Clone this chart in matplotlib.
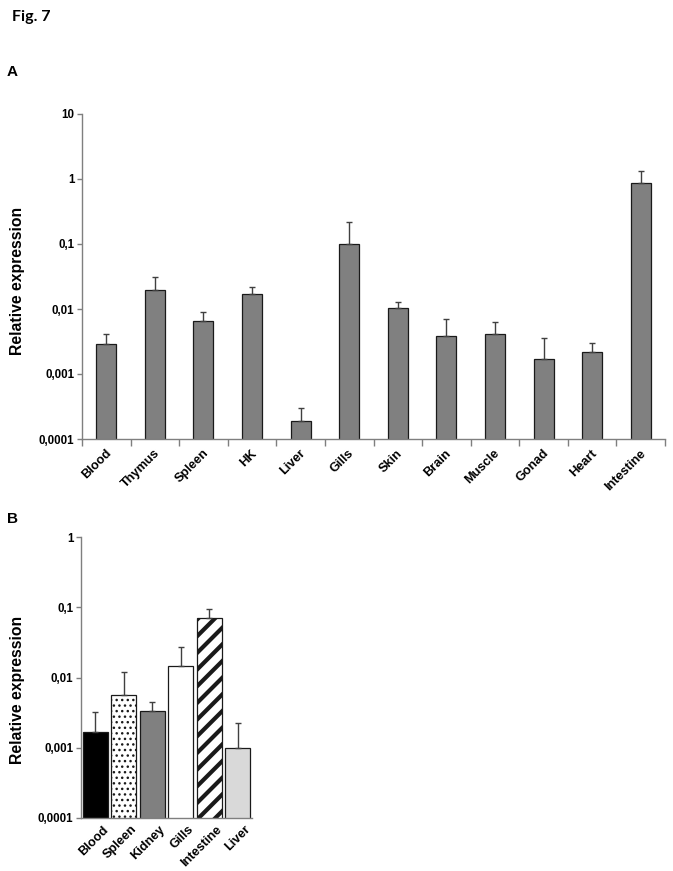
import matplotlib
matplotlib.use("Agg")
import matplotlib.pyplot as plt
import matplotlib.transforms as mtransforms
import numpy as np

# ---------------- data ----------------
tissues_a = ["Blood", "Thymus", "Spleen", "HK", "Liver", "Gills", "Skin",
             "Brain", "Muscle", "Gonad", "Heart", "Intestine"]
values_a = [0.00286, 0.0194, 0.0066, 0.0172, 0.000189, 0.099, 0.01035,
            0.00385, 0.00408, 0.00168, 0.00218, 0.857]
err_a = [0.00121, 0.0120, 0.00248, 0.0048, 0.000115, 0.119, 0.00235,
         0.00309, 0.0023, 0.00186, 0.00085, 0.453]

tissues_b = ["Blood", "Spleen", "Kidney", "Gills", "Intestine", "Liver"]
values_b = [0.00165, 0.0056, 0.00339, 0.0148, 0.0692, 0.0010]
err_b = [0.00155, 0.0064, 0.00116, 0.0128, 0.0256, 0.00123]

yticks_a = [0.0001, 0.001, 0.01, 0.1, 1, 10]
yticklabels_a = ["0,0001", "0,001", "0,01", "0,1", "1", "10"]
yticks_b = [0.0001, 0.001, 0.01, 0.1, 1]
yticklabels_b = ["0,0001", "0,001", "0,01", "0,1", "1"]

# ---------------- style ----------------
W, H = 673, 871
DPI = 100
fig = plt.figure(figsize=(W / DPI, H / DPI), dpi=DPI)
fig.patch.set_facecolor("white")

FONT = "Liberation Sans"
AXCOL = "#7f7f7f"
ERRCOL = "#404040"


def px_axes(left, top, right, bottom):
    return fig.add_axes([left / W, 1 - bottom / H, (right - left) / W, (bottom - top) / H])


def style_axes(ax, yticks, ylabels, ylim):
    ax.set_yscale("log")
    ax.set_ylim(*ylim)
    ax.yaxis.set_major_locator(matplotlib.ticker.FixedLocator(yticks))
    ax.yaxis.set_minor_locator(matplotlib.ticker.NullLocator())
    ax.set_yticklabels(ylabels, fontfamily=FONT, fontweight="bold", fontsize=8.3)
    for s in ["top", "right"]:
        ax.spines[s].set_visible(False)
    for s in ["left", "bottom"]:
        ax.spines[s].set_color(AXCOL)
        ax.spines[s].set_linewidth(1.0)
    ax.tick_params(axis="y", which="major", direction="out", length=3.5,
                   width=1.0, color=AXCOL, pad=2)
    ax.set_ylabel("Relative expression", fontfamily=FONT, fontweight="bold",
                  fontsize=11.3, labelpad=6)


# ---------------- Panel A ----------------
axA = px_axes(82, 114, 665, 439)
xa = np.arange(len(tissues_a))
axA.bar(xa, values_a, width=0.41, color="#808080", edgecolor="#1a1a1a",
        linewidth=0.9, zorder=2)
axA.errorbar(xa, values_a, yerr=[np.zeros(len(err_a)), err_a], fmt="none",
             ecolor=ERRCOL, elinewidth=1.0, capsize=2.5, capthick=1.0, zorder=3)
axA.set_xlim(-0.5, len(tissues_a) - 0.5)
style_axes(axA, yticks_a, yticklabels_a, (0.0001, 10))
axA.set_xticks(np.arange(len(tissues_a) + 1) - 0.5)
axA.set_xticklabels([])
axA.tick_params(axis="x", which="major", direction="out", length=5,
                width=1.0, color=AXCOL)
axA.set_xticks(xa, minor=True)
axA.set_xticklabels(tissues_a, minor=True, rotation=45, ha="right",
                    va="center", rotation_mode="anchor",
                    fontfamily=FONT, fontweight="bold", fontsize=9.2)
axA.tick_params(axis="x", which="minor", length=0, pad=9)
shiftA = mtransforms.ScaledTranslation(3 / DPI, 0, fig.dpi_scale_trans)
for lab in axA.get_xticklabels(minor=True):
    lab.set_transform(lab.get_transform() + shiftA)
axA.yaxis.set_label_coords(-0.097, 0.486)

# ---------------- Panel B ----------------
axB = px_axes(81, 537, 252, 818)
xb = np.arange(len(tissues_b))
colors_b = ["#000000", "#ffffff", "#808080", "#ffffff", "#ffffff", "#d9d9d9"]
hatches_b = [None, "...", None, None, "//", None]
bars = axB.bar(xb, values_b, width=0.86, color=colors_b, edgecolor="#1a1a1a",
               linewidth=0.9, zorder=2)
for b, h in zip(bars, hatches_b):
    if h:
        b.set_hatch(h)
        try:
            b.set_hatch_linewidth(3.0 if h == "//" else 1.0)
        except Exception:
            pass
axB.errorbar(xb, values_b, yerr=[np.zeros(len(err_b)), err_b], fmt="none",
             ecolor=ERRCOL, elinewidth=1.0, capsize=2.5, capthick=1.0, zorder=3)
axB.set_xlim(-0.5, len(tissues_b) - 0.5)
style_axes(axB, yticks_b, yticklabels_b, (0.0001, 1))
axB.set_xticks(xb)
axB.set_xticklabels(tissues_b, rotation=45, ha="right", va="center",
                    rotation_mode="anchor", fontfamily=FONT,
                    fontweight="bold", fontsize=9.2)
axB.tick_params(axis="x", length=0, pad=7)
shiftB = mtransforms.ScaledTranslation(11 / DPI, 0, fig.dpi_scale_trans)
for lab in axB.get_xticklabels():
    lab.set_transform(lab.get_transform() + shiftB)
axB.yaxis.set_label_coords(-0.327, 0.455)

# ---------------- texts ----------------
fig.text(12 / W, 1 - 21 / H, "Fig. 7", fontfamily="Lato", fontweight="bold",
         fontsize=11.5, ha="left", va="baseline")
fig.text(7 / W, 1 - 76 / H, "A", fontfamily=FONT, fontweight="bold",
         fontsize=11, ha="left", va="baseline")
fig.text(7 / W, 1 - 523 / H, "B", fontfamily=FONT, fontweight="bold",
         fontsize=11, ha="left", va="baseline")

fig.savefig("out.png", dpi=DPI, facecolor="white")
